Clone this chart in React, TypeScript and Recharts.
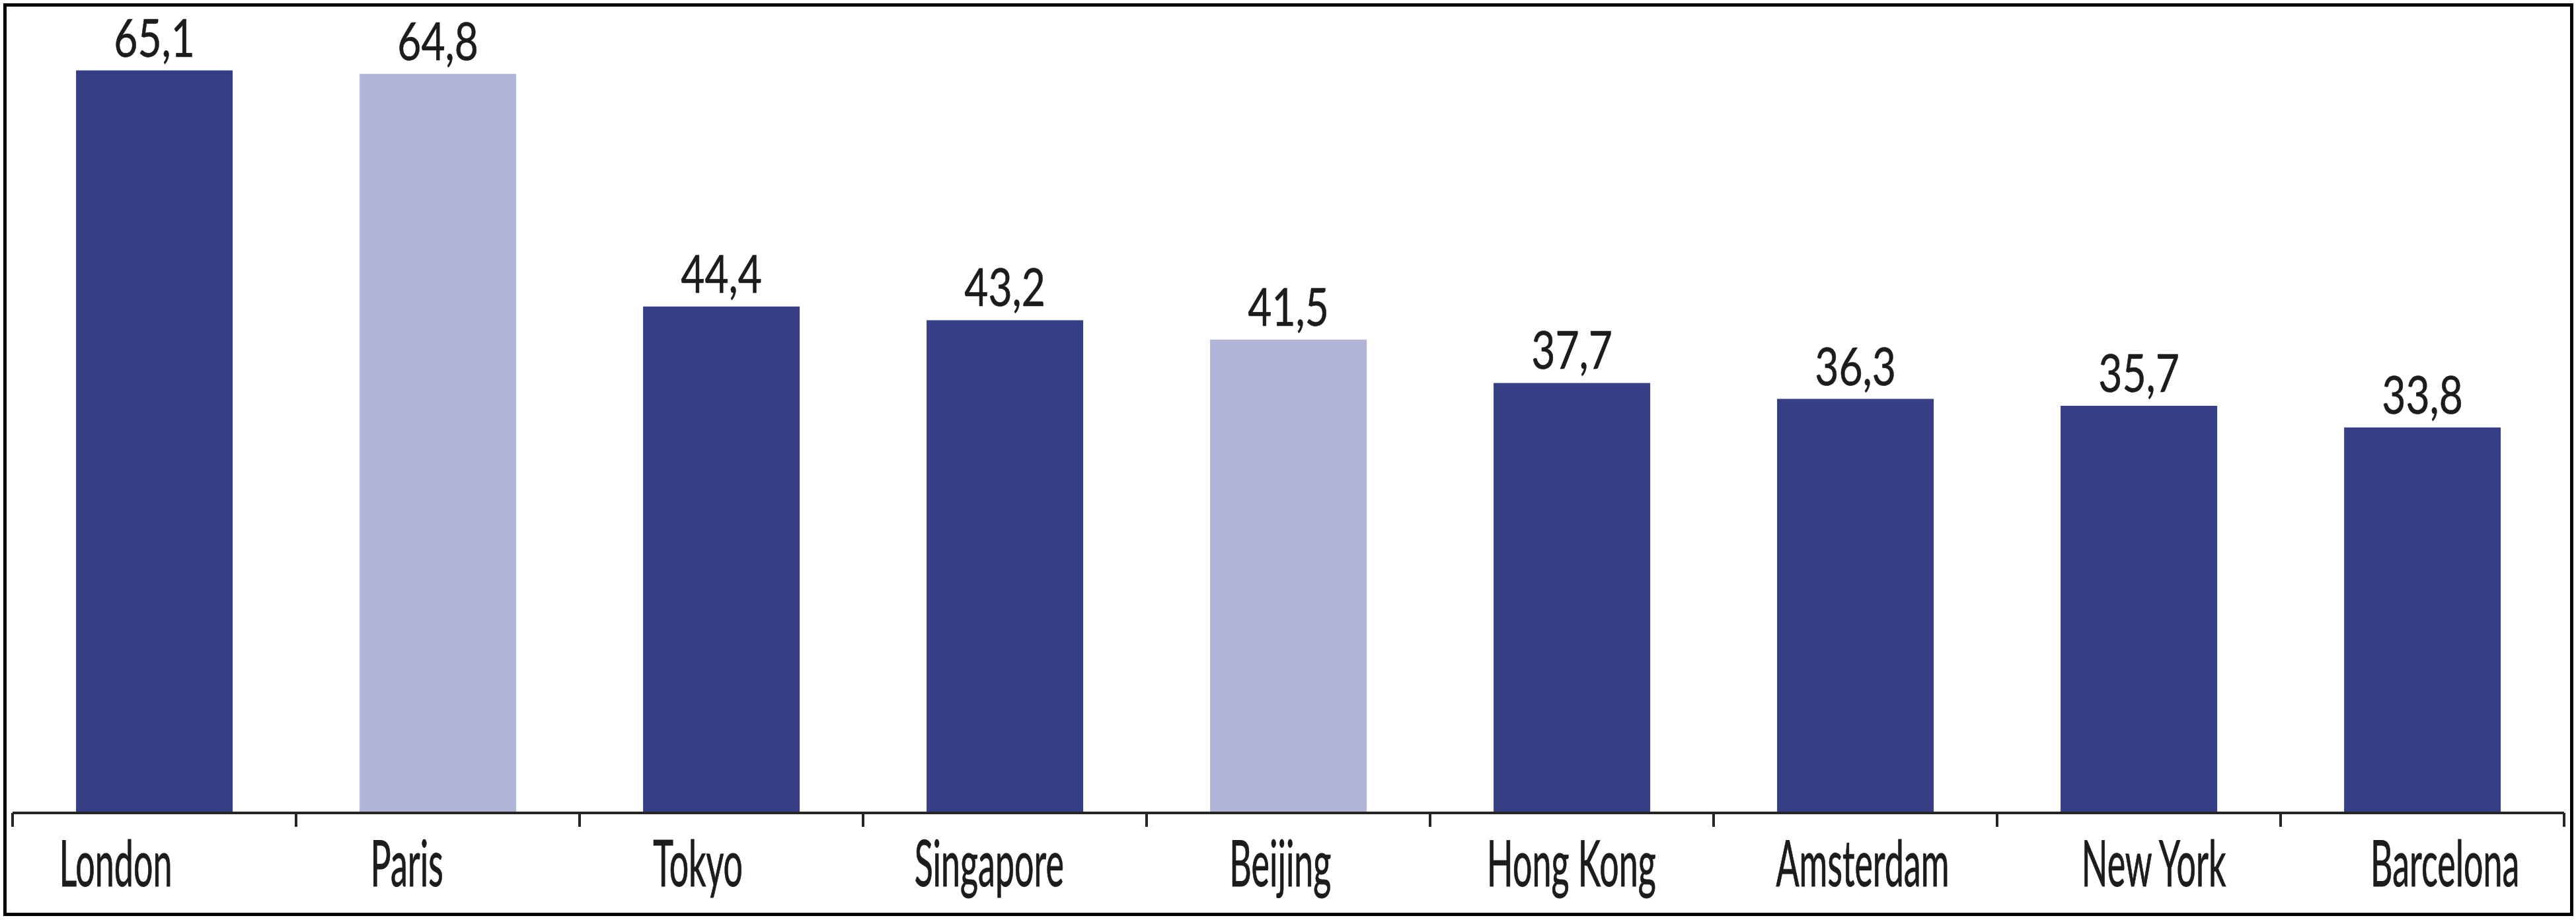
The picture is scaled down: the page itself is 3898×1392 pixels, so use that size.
import React from 'react';
import { BarChart, Bar, XAxis, YAxis, Cell, LabelList } from 'recharts';

const cities = ['London', 'Paris', 'Tokyo', 'Singapore', 'Beijing', 'Hong Kong', 'Amsterdam', 'New York', 'Barcelona'];
const values = [65.1, 64.8, 44.4, 43.2, 41.5, 37.7, 36.3, 35.7, 33.8];
const highlighted = ['Paris', 'Beijing'];
const yDomain: [number, number] = [0, 70];

const DARK = '#363E86';
const LIGHT = '#B1B5D8';
const TEXT = '#1c1c1c';
const FONT = 'Lato, "Open Sans", sans-serif';

const data = cities.map((city, i) => ({ city, value: values[i] }));

const W = 3898;
const H = 1392;
const MARGIN = { top: 22, right: 18, left: 19, bottom: 0 };
const XAXIS_H = 162;
const AXIS_Y = H - MARGIN.bottom - XAXIS_H;
const PLOT_W = W - MARGIN.left - MARGIN.right;
const BAND = PLOT_W / cities.length;
const FIRST_CENTER = MARGIN.left + BAND / 2;
const LABEL_SHIFT = -58.5;
const LABEL_SPREAD = 1.027;

const fmt = (v: number) => v.toFixed(1).replace('.', ',');

const CityTick = (props: any) => {
  const { x, payload } = props;
  const idx = payload.index ?? cities.indexOf(payload.value);
  const lx = FIRST_CENTER + LABEL_SHIFT + (x - FIRST_CENTER) * LABEL_SPREAD;
  const left = x - BAND / 2;
  const right = x + BAND / 2;
  return (
    <g>
      <line x1={left} x2={left} y1={AXIS_Y} y2={AXIS_Y + 21} stroke="#262626" strokeWidth={4} />
      {idx === cities.length - 1 && (
        <line x1={right} x2={right} y1={AXIS_Y} y2={AXIS_Y + 21} stroke="#262626" strokeWidth={4} />
      )}
      <text
        x={0}
        y={0}
        transform={`translate(${lx},${AXIS_Y + 111}) scale(0.536,1)`}
        textAnchor="middle"
        fontFamily={FONT}
        fontSize={97}
        fill={TEXT}
        stroke={TEXT}
        strokeWidth={1}
      >
        {payload.value}
      </text>
    </g>
  );
};

const ValueLabel = (props: any) => {
  const { x, y, width, value } = props;
  const cx = x + width / 2;
  return (
    <text
      x={0}
      y={0}
      transform={`translate(${cx},${y - 21}) scale(0.78,1)`}
      textAnchor="middle"
      fontFamily={FONT}
      fontSize={80}
      fill={TEXT}
      stroke={TEXT}
      strokeWidth={0.6}
    >
      {fmt(value)}
    </text>
  );
};

export default function App() {
  return (
    <div style={{ position: 'absolute', left: 0, top: 0, width: W, height: H, background: '#fff' }}>
      <div
        style={{
          position: 'absolute',
          left: 5,
          top: 5,
          width: 3889,
          height: 1381,
          border: '5px solid #000',
          boxSizing: 'border-box',
        }}
      />
      <div style={{ position: 'absolute', left: 0, top: 0 }}>
        <BarChart width={W} height={H} data={data} margin={MARGIN} barCategoryGap="22.4%">
          <XAxis
            dataKey="city"
            height={XAXIS_H}
            axisLine={{ stroke: '#262626', strokeWidth: 4 }}
            tickLine={false}
            tickSize={0}
            interval={0}
            tick={<CityTick />}
          />
          <YAxis hide domain={yDomain} />
          <Bar dataKey="value" isAnimationActive={false}>
            {data.map((d) => (
              <Cell key={d.city} fill={highlighted.includes(d.city) ? LIGHT : DARK} />
            ))}
            <LabelList dataKey="value" content={<ValueLabel />} />
          </Bar>
        </BarChart>
      </div>
    </div>
  );
}
